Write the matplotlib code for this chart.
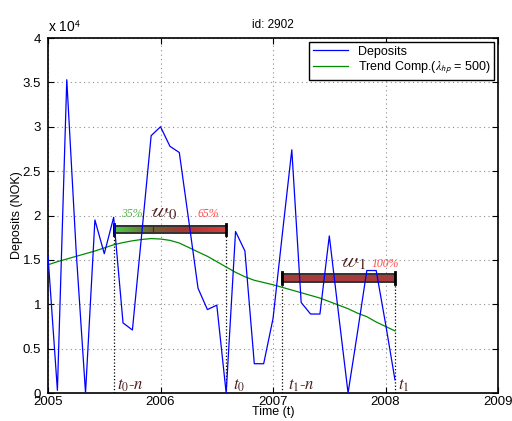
import numpy as np
import matplotlib
matplotlib.use('Agg')
import matplotlib.pyplot as plt
from matplotlib.colors import LinearSegmentedColormap
from matplotlib.patches import Rectangle
from matplotlib.ticker import FuncFormatter

plt.rcParams['font.family'] = ['Liberation Sans', 'DejaVu Sans']
plt.rcParams['mathtext.fontset'] = 'stix'

# monthly deposits (NOK), Jan 2005 - Feb 2008
deposits = [15400, 300, 35300, 16000, 0, 19500, 15700, 19800, 7900, 7100,
            18000, 29000, 30000, 27800, 27100, 19500, 11800, 9400, 9900, 0,
            18200, 16000, 3300, 3300, 8400, 18000, 27400, 10200, 8900, 8900,
            17700, 8800, 0, 6800, 13800, 13800, 7800, 1500]
# HP trend component (lambda = 500)
trend = [14450, 14800, 15100, 15400, 15700, 16000, 16350, 16700, 16950, 17150,
         17300, 17400, 17350, 17200, 16900, 16400, 15900, 15400, 14800, 14200,
         13600, 13100, 12700, 12450, 12200, 11900, 11600, 11300, 11000, 10700,
         10300, 9900, 9500, 9000, 8600, 8000, 7500, 7000]
start_year = 2005
xticks = [2005, 2006, 2007, 2008, 2009]

t = start_year + np.arange(len(deposits)) / 12.0

fig = plt.figure(figsize=(5.12, 4.21), dpi=100)
ax = fig.add_axes([0.0938, 0.0665, 0.879, 0.8432])

ax.plot(t, deposits, color='blue', lw=0.9, zorder=5, label='Deposits')
ax.plot(t, trend, color=(0, 0.55, 0), lw=0.9, zorder=3,
        label=r'Trend Comp.($\lambda_{\mathsf{hp}}$ = 500)')

brown = (0.3, 0.12, 0.12)
cmap = LinearSegmentedColormap.from_list('w0', [
    (0.0, (0.28, 0.82, 0.25)),
    (0.35, (0.45, 0.38, 0.2)),
    (0.6, (0.66, 0.2, 0.2)),
    (1.0, (0.87, 0.24, 0.24))])


def window_bar(i0, i1, y0, y1, gradient):
    x0, x1 = t[i0], t[i1]
    if gradient:
        ax.imshow(np.linspace(0, 1, 256).reshape(1, -1), extent=[x0, x1, y0, y1],
                  aspect='auto', cmap=cmap, zorder=2, interpolation='bilinear')
        xm = x0 + 0.35 * (x1 - x0)
        ax.plot([xm, xm], [y0, y1], color=(0.2, 0.2, 0.1), lw=0.8, zorder=2.5)
    else:
        ax.add_patch(Rectangle((x0, y0), x1 - x0, y1 - y0, fc=(0.66, 0.23, 0.23),
                               ec='none', zorder=2))
    ax.add_patch(Rectangle((x0, y0), x1 - x0, y1 - y0, fill=False,
                           ec=(0.2, 0.2, 0.2), lw=1.4, zorder=2.6))
    for x in (x0, x1):
        ax.plot([x, x], [y0 - 200, y1 + 250], color='black', lw=2, zorder=2.7)
        ax.plot([x, x], [0, y0], color='black', ls=':', lw=0.9, zorder=2.7)


window_bar(7, 19, 18000, 18800, True)
window_bar(25, 37, 12500, 13400, False)

serif = dict(family=['Liberation Serif', 'DejaVu Serif'], style='italic')
ax.text(2005.74, 19800, '35%', color=(0.35, 0.7, 0.3), fontsize=8.5,
        ha='center', va='baseline', **serif)
ax.text(2006.42, 19800, '65%', color=(1.0, 0.3, 0.3), fontsize=8.5,
        ha='center', va='baseline', **serif)
ax.text(2006.03, 19800, r'$\mathscr{w}_0$', color=brown, fontsize=15,
        ha='center', va='baseline')
ax.text(2007.71, 14200, r'$\mathscr{w}_1$', color=brown, fontsize=15,
        ha='center', va='baseline')
ax.text(2008.0, 14200, '100%', color=(1.0, 0.3, 0.3), fontsize=8.5,
        ha='center', va='baseline', **serif)

for x, s in [(2005.61, r'$t_0$-$n$'), (2006.64, r'$t_0$'),
             (2007.13, r'$t_1$-$n$'), (2008.11, r'$t_1$')]:
    ax.text(x, 350, s, color=brown, fontsize=12, ha='left', va='baseline', **serif)

ax.set_xlim(2005, 2009)
ax.set_ylim(0, 40000)
ax.set_xticks(xticks)
ax.set_yticks(np.arange(0, 40001, 5000))
ax.yaxis.set_major_formatter(FuncFormatter(lambda v, p: '%g' % (v / 1e4)))
ax.tick_params(direction='in', top=True, right=True, length=4, labelsize=9.5)
ax.tick_params(axis='x', pad=2)
ax.tick_params(axis='y', pad=5)
ax.grid(True, ls=(0, (1, 3)), color=(0.55, 0.55, 0.55), lw=0.8)
for sp in ax.spines.values():
    sp.set_linewidth(1.2)

ax.text(0, 1.008, r'x 10$^{\mathsf{4}}$', transform=ax.transAxes, fontsize=10,
        ha='left', va='bottom')
ax.set_title('id: 2902', fontsize=8.5, pad=7)
ax.set_xlabel('Time (t)', fontsize=9, labelpad=-1)
ax.set_ylabel('Deposits (NOK)', fontsize=9, labelpad=0)

leg = ax.legend(loc='upper right', fontsize=9, fancybox=False, framealpha=1,
                edgecolor='black', borderaxespad=0.3, handlelength=2.8,
                labelspacing=0.2, borderpad=0.3)
leg.get_frame().set_linewidth(1.0)

fig.savefig('out.png', dpi=100)
